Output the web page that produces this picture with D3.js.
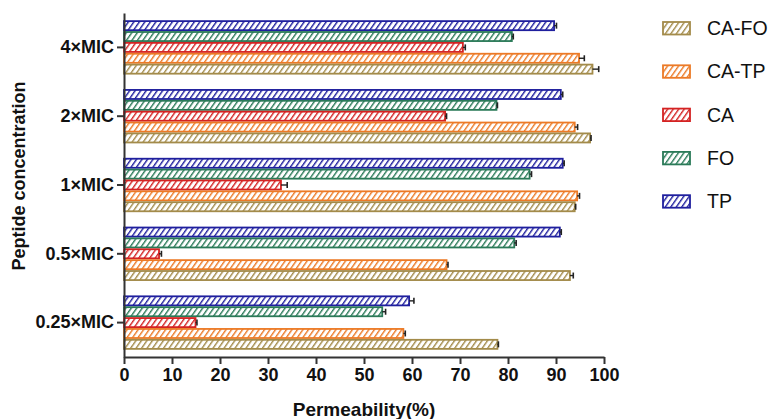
<!DOCTYPE html>
<html>
<head>
<meta charset="utf-8">
<script src="https://cdn.jsdelivr.net/npm/d3@7"></script>
<style>
  body { margin: 0; background: #fff; }
  text { font-family: Arial, "Liberation Sans", sans-serif; }
</style>
</head>
<body>
<div id="chart"></div>
<script>
// concentrations, top to bottom
const concentrations = ['4×MIC', '2×MIC', '1×MIC', '0.5×MIC', '0.25×MIC'];
// series, top to bottom inside each group
const seriesNames = ['TP', 'FO', 'CA', 'CA-TP', 'CA-FO'];
const legendOrder = ['CA-FO', 'CA-TP', 'CA', 'FO', 'TP'];
const seriesColors = ['#1f1f9e', '#2a7a58', '#d42222', '#ec7a26', '#a38b4a'];

// values per series, same order as concentrations
const tpValues   = [89.6, 91.0, 91.4, 90.8, 59.4];
const foValues   = [80.8, 77.6, 84.5, 81.3, 53.8];
const caValues   = [70.6, 66.9, 32.7, 7.3, 14.9];
const catpValues = [94.8, 93.9, 94.4, 67.2, 58.2];
const cafoValues = [97.6, 97.1, 93.9, 92.9, 77.8];
// error bars (SD)
const tpErr   = [0.5, 0.4, 0.3, 0.3, 1.0];
const foErr   = [0.3, 0.2, 0.4, 0.4, 0.7];
const caErr   = [0.5, 0.3, 1.3, 0.5, 0.3];
const catpErr = [1.1, 0.6, 0.5, 0.3, 0.4];
const cafoErr = [1.3, 0.2, 0.2, 0.7, 0.2];

const xTicks = [0, 10, 20, 30, 40, 50, 60, 70, 80, 90, 100];

const width = 771, height = 419;
const margin = {left: 124, right: 167, top: 13, bottom: 62};

const valueTable = {TP: tpValues, FO: foValues, CA: caValues, 'CA-TP': catpValues, 'CA-FO': cafoValues};
const errTable = {TP: tpErr, FO: foErr, CA: caErr, 'CA-TP': catpErr, 'CA-FO': cafoErr};

const rows = [];
concentrations.forEach((c, i) => {
  seriesNames.forEach(s => {
    rows.push({conc: c, series: s, value: valueTable[s][i], err: errTable[s][i]});
  });
});

const color = d3.scaleOrdinal().domain(seriesNames).range(seriesColors);

const svg = d3.select('#chart').append('svg')
  .attr('width', width).attr('height', height);

// diagonal hatch, one per series
const hs = 4.5;
const defs = svg.append('defs');
seriesNames.forEach((s, i) => {
  const p = defs.append('pattern')
    .attr('id', 'hatch' + i)
    .attr('patternUnits', 'userSpaceOnUse')
    .attr('width', hs).attr('height', hs)
    .attr('patternTransform', 'rotate(35)');
  p.append('rect').attr('width', hs).attr('height', hs).attr('fill', '#fff');
  p.append('line')
    .attr('x1', 0.7).attr('y1', 0).attr('x2', 0.7).attr('y2', hs)
    .attr('stroke', color(s)).attr('stroke-width', 1.4);
});

const x = d3.scaleLinear().domain([0, 100]).range([margin.left, width - margin.right]);
const y = d3.scaleBand().domain(concentrations)
  .range([margin.top, height - margin.bottom])
  .paddingInner(0.21).paddingOuter(0.105);
const ySub = d3.scaleBand().domain(seriesNames).range([0, y.bandwidth()]);

const g = svg.append('g');

g.selectAll('rect.bar')
  .data(rows).enter()
  .append('rect')
  .attr('class', 'bar')
  .attr('x', x(0))
  .attr('y', d => y(d.conc) + ySub(d.series) + 0.9)
  .attr('width', d => x(d.value) - x(0))
  .attr('height', ySub.bandwidth() - 1.8)
  .attr('fill', d => 'url(#hatch' + seriesNames.indexOf(d.series) + ')')
  .attr('stroke', d => color(d.series))
  .attr('stroke-width', 1.8);

// error bars
const eb = g.selectAll('g.err').data(rows).enter().append('g').attr('class', 'err');
eb.append('line')
  .attr('x1', d => x(d.value)).attr('x2', d => x(d.value + d.err))
  .attr('y1', d => y(d.conc) + ySub(d.series) + ySub.bandwidth() / 2)
  .attr('y2', d => y(d.conc) + ySub(d.series) + ySub.bandwidth() / 2)
  .attr('stroke', '#222').attr('stroke-width', 1.4);
eb.append('line')
  .attr('x1', d => x(d.value + d.err)).attr('x2', d => x(d.value + d.err))
  .attr('y1', d => y(d.conc) + ySub(d.series) + ySub.bandwidth() / 2 - 3)
  .attr('y2', d => y(d.conc) + ySub(d.series) + ySub.bandwidth() / 2 + 3)
  .attr('stroke', '#222').attr('stroke-width', 1.6);

// axes
const axisX = svg.append('g')
  .attr('transform', 'translate(0,' + (height - margin.bottom) + ')')
  .call(d3.axisBottom(x).tickValues(xTicks).tickSize(7).tickSizeOuter(0).tickPadding(4));
const axisY = svg.append('g')
  .attr('transform', 'translate(' + margin.left + ',0)')
  .call(d3.axisLeft(y).tickSize(7).tickSizeOuter(0).tickPadding(3));

[axisX, axisY].forEach(a => {
  a.select('path.domain').attr('stroke', '#333').attr('stroke-width', 2);
  a.selectAll('.tick line').attr('stroke', '#333').attr('stroke-width', 2);
  a.selectAll('.tick text')
    .attr('fill', '#111')
    .style('font-size', '18px')
    .style('font-weight', 'bold')
    .style('font-family', 'Arial, "Liberation Sans", sans-serif');
});

// axis titles
svg.append('text')
  .attr('x', (x(0) + x(100)) / 2).attr('y', 416)
  .attr('text-anchor', 'middle')
  .style('font-size', '19px').style('font-weight', 'bold').attr('fill', '#111')
  .text('Permeability(%)');

svg.append('text')
  .attr('transform', 'translate(25,' + 176 + ') rotate(-90)')
  .attr('text-anchor', 'middle')
  .style('font-size', '18px').style('font-weight', 'bold').attr('fill', '#111')
  .text('Peptide concentration');

// legend
const legend = svg.append('g').attr('transform', 'translate(663,28)');
const item = legend.selectAll('g').data(legendOrder).enter().append('g')
  .attr('transform', (d, i) => 'translate(0,' + i * 43.3 + ')');
item.append('rect')
  .attr('x', 0).attr('y', -6).attr('width', 27).attr('height', 12.5)
  .attr('fill', d => 'url(#hatch' + seriesNames.indexOf(d) + ')')
  .attr('stroke', d => color(d)).attr('stroke-width', 1.8);
item.append('text')
  .attr('x', 44).attr('y', 0).attr('dy', '0.36em')
  .style('font-size', '19.5px').attr('fill', '#111')
  .text(d => d);
</script>
</body>
</html>
